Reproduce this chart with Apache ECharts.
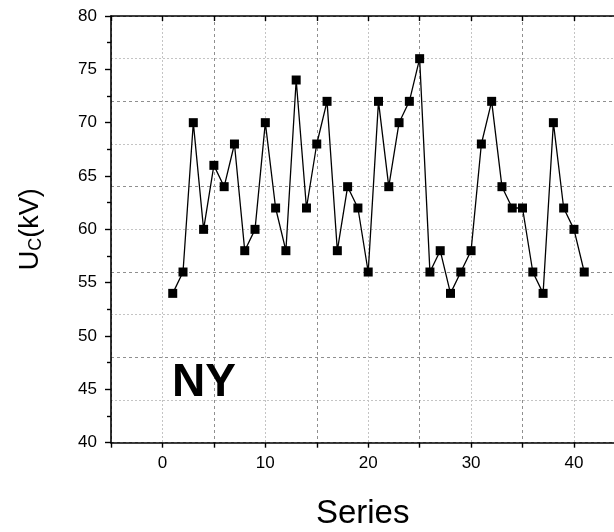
<!DOCTYPE html>
<html>
<head>
<meta charset="utf-8">
<script src="https://cdn.jsdelivr.net/npm/echarts@6/dist/echarts.min.js"></script>
<style>html,body{margin:0;padding:0;background:#fff;}#c{width:614px;height:532px;}</style>
</head>
<body>
<div id="c"></div>
<script>
const seriesIndex = [1,2,3,4,5,6,7,8,9,10,11,12,13,14,15,16,17,18,19,20,21,22,23,24,25,26,27,28,29,30,31,32,33,34,35,36,37,38,39,40,41];
const ucValues = [54,56,70,60,66,64,68,58,60,70,62,58,74,62,68,72,58,64,62,56,72,64,70,72,76,56,58,54,56,58,68,72,64,62,62,56,54,70,62,60,56];
const xTickLabels = ['0','10','20','30','40'];
const yTickLabels = ['40','45','50','55','60','65','70','75','80'];

const FONT = '"Liberation Sans", Arial, sans-serif';
const chart = echarts.init(document.getElementById('c'), null, {renderer: 'canvas'});
const data = seriesIndex.map((x, i) => [x, ucValues[i]]);
const none = 'rgba(0,0,0,0)';
const light = '#c4c4c4';
const dark = '#8f8f8f';

const hiddenParts = {axisLine:{show:false}, axisTick:{show:false}, axisLabel:{show:false}};

chart.setOption({
  animation: false,
  backgroundColor: '#fff',
  title: {
    text: 'NY', left: 167, top: 355,
    textStyle: {fontFamily: FONT, fontSize: 46, fontWeight: 'bold', color: '#000'}
  },
  grid: {left: 111, top: 16, width: 514.4, bottom: 89.3, containLabel: false, outerBoundsMode: 'none'},
  xAxis: [
    {
      type: 'value', min: -5, max: 45, interval: 5, position: 'bottom',
      axisLine: {show: true, onZero: false, lineStyle: {color: '#000', width: 1.6}},
      axisTick: {show: true, inside: false, length: 5, lineStyle: {color: '#000', width: 1.4}},
      axisLabel: {
        margin: 12, fontFamily: FONT, fontSize: 17, color: '#000',
        formatter: v => xTickLabels.indexOf(String(v)) >= 0 ? String(v) : ''
      },
      splitLine: {show: false},
      name: 'Series', nameLocation: 'middle', nameGap: 55,
      nameTextStyle: {fontFamily: FONT, fontSize: 33, color: '#000', padding: [0, 11, 0, 0]}
    },
    Object.assign({type: 'value', min: -5, max: 45, interval: 5, position: 'bottom',
      splitLine: {show: true, lineStyle: {color: [none, light], type: [2, 2], width: 1}}}, hiddenParts),
    Object.assign({type: 'value', min: -5, max: 45, interval: 5, position: 'bottom',
      splitLine: {show: true, lineStyle: {color: [dark, none], type: [3, 3], width: 1}}}, hiddenParts),
    {
      type: 'value', min: -5, max: 45, interval: 5, position: 'top',
      axisLine: {show: true, onZero: false, lineStyle: {color: '#000', width: 1.6}},
      axisTick: {show: true, inside: true, length: 5, lineStyle: {color: '#000', width: 1.4}},
      axisLabel: {show: false}, splitLine: {show: false}
    }
  ],
  yAxis: [
    {
      type: 'value', min: 40, max: 80, interval: 5, position: 'left',
      axisLine: {show: true, onZero: false, lineStyle: {color: '#000', width: 1.6}},
      axisTick: {show: true, inside: false, length: 6, lineStyle: {color: '#000', width: 1.4}},
      minorTick: {show: true, splitNumber: 2, length: 4, lineStyle: {color: '#000', width: 1.4}},
      axisLabel: {
        margin: 14, fontFamily: FONT, fontSize: 17, color: '#000',
        formatter: v => yTickLabels.indexOf(String(v)) >= 0 ? String(v) : ''
      },
      splitLine: {show: false},
      name: '{u|U}{s|C}{u|(kV)}', nameLocation: 'middle', nameGap: 66, nameRotate: 90,
      nameTextStyle: {
        color: '#000',
        rich: {
          u: {fontFamily: FONT, fontSize: 27, color: '#000'},
          s: {fontFamily: FONT, fontSize: 18, color: '#000', verticalAlign: 'bottom', padding: [10, 0, 0, 0]}
        }
      }
    },
    Object.assign({type: 'value', min: 40, max: 80, interval: 4, position: 'left',
      splitLine: {show: true, lineStyle: {color: [none, light], type: [2, 2], width: 1}}}, hiddenParts),
    Object.assign({type: 'value', min: 40, max: 80, interval: 4, position: 'left',
      splitLine: {show: true, lineStyle: {color: [dark, none], type: [3, 3], width: 1}}}, hiddenParts)
  ],
  series: [{
    type: 'line', xAxisIndex: 0, yAxisIndex: 0, data: data,
    symbol: 'rect', symbolSize: 9, showAllSymbol: true,
    lineStyle: {color: '#000', width: 1.3},
    itemStyle: {color: '#000', borderWidth: 0},
    z: 5
  }]
});
</script>
</body>
</html>
